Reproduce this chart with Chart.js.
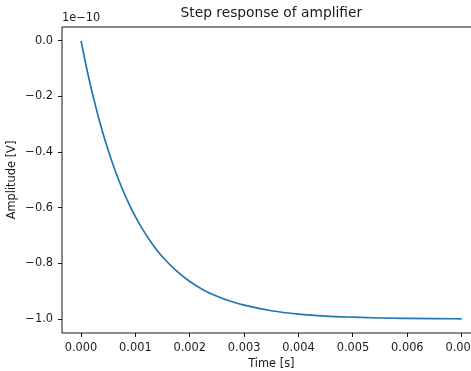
<!DOCTYPE html>
<html>
<head>
<meta charset="utf-8">
<script src="https://cdn.jsdelivr.net/npm/chart.js@4"></script>
<style>
  html, body { margin: 0; padding: 0; background: #fff; overflow: hidden; }
  #wrap { width: 471px; height: 371px; overflow: hidden; }
</style>
</head>
<body>
<div id="wrap"><canvas id="stepChart" width="482" height="371"></canvas></div>
<script>
// values (amplitude in units of 1e-10 V)
const timeS = [0, 0.000125, 0.00025, 0.000375, 0.0005, 0.000625, 0.00075, 0.000875,
               0.001, 0.001125, 0.00125, 0.001375, 0.0015, 0.00175, 0.002, 0.00225,
               0.0025, 0.00275, 0.003, 0.0035, 0.004, 0.0045, 0.005, 0.0055, 0.006, 0.0065, 0.007];
const amplitude = [0, -0.118, -0.221, -0.313, -0.393, -0.465, -0.528, -0.583,
                   -0.632, -0.675, -0.713, -0.747, -0.777, -0.826, -0.865, -0.895,
                   -0.918, -0.936, -0.950, -0.970, -0.982, -0.989, -0.993, -0.996, -0.9975, -0.9985, -0.999];
const xTicks = [0, 0.001, 0.002, 0.003, 0.004, 0.005, 0.006, 0.007];
const yTicks = [0, -0.2, -0.4, -0.6, -0.8, -1.0];

const FONT = 'DejaVu Sans';
const TXT = '#1a1a1a';

// frame, title, axis labels and the offset text like matplotlib
const decorations = {
    id: 'decorations',
    afterDraw(chart) {
        const c = chart.ctx;
        const a = chart.chartArea;
        c.save();
        c.strokeStyle = '#000';
        c.lineWidth = 0.9;
        c.strokeRect(a.left, a.top, a.right - a.left, a.bottom - a.top);

        c.fillStyle = TXT;
        c.textAlign = 'center';
        c.textBaseline = 'alphabetic';
        c.font = '13.8px "' + FONT + '"';
        c.fillText('Step response of amplifier', (a.left + a.right) / 2, 17);

        c.font = '11.4px "' + FONT + '"';
        c.fillText('Time [s]', (a.left + a.right) / 2, 367);

        c.textAlign = 'left';
        c.fillText('1e\u221210', a.left, 21);

        c.translate(15, (a.top + a.bottom) / 2);
        c.rotate(-Math.PI / 2);
        c.textAlign = 'center';
        c.fillText('Amplitude [V]', 0, 0);
        c.restore();
    }
};

new Chart(document.getElementById('stepChart').getContext('2d'), {
    type: 'line',
    data: {
        datasets: [{
            data: timeS.map((t, i) => ({ x: t, y: amplitude[i] })),
            borderColor: '#1f77b4',
            borderWidth: 1.7,
            pointRadius: 0,
            fill: false,
            cubicInterpolationMode: 'monotone'
        }]
    },
    options: {
        responsive: false,
        animation: false,
        events: [],
        layout: { padding: { top: 27, left: 0, right: 0, bottom: 0 } },
        plugins: { legend: { display: false }, tooltip: { enabled: false } },
        scales: {
            x: {
                type: 'linear',
                min: -0.00035,
                max: 0.00735,
                afterBuildTicks: s => { s.ticks = xTicks.map(v => ({ value: v })); },
                afterFit: s => { s.height = 38; },
                grid: { drawOnChartArea: false, tickLength: 4, tickColor: '#000', tickWidth: 0.9 },
                border: { display: false },
                ticks: {
                    color: TXT,
                    padding: 4,
                    maxRotation: 0,
                    autoSkip: false,
                    font: { family: FONT, size: 11.4 },
                    callback: v => v.toFixed(3)
                }
            },
            y: {
                min: -1.05,
                max: 0.05,
                afterBuildTicks: s => { s.ticks = yTicks.map(v => ({ value: v })); },
                afterFit: s => { s.width = 62; },
                grid: { drawOnChartArea: false, tickLength: 4, tickColor: '#000', tickWidth: 0.9 },
                border: { display: false },
                ticks: {
                    color: TXT,
                    padding: 5,
                    autoSkip: false,
                    font: { family: FONT, size: 11.4 },
                    callback: v => v.toFixed(1).replace('-', '\u2212')
                }
            }
        }
    },
    plugins: [decorations]
});
</script>
</body>
</html>
